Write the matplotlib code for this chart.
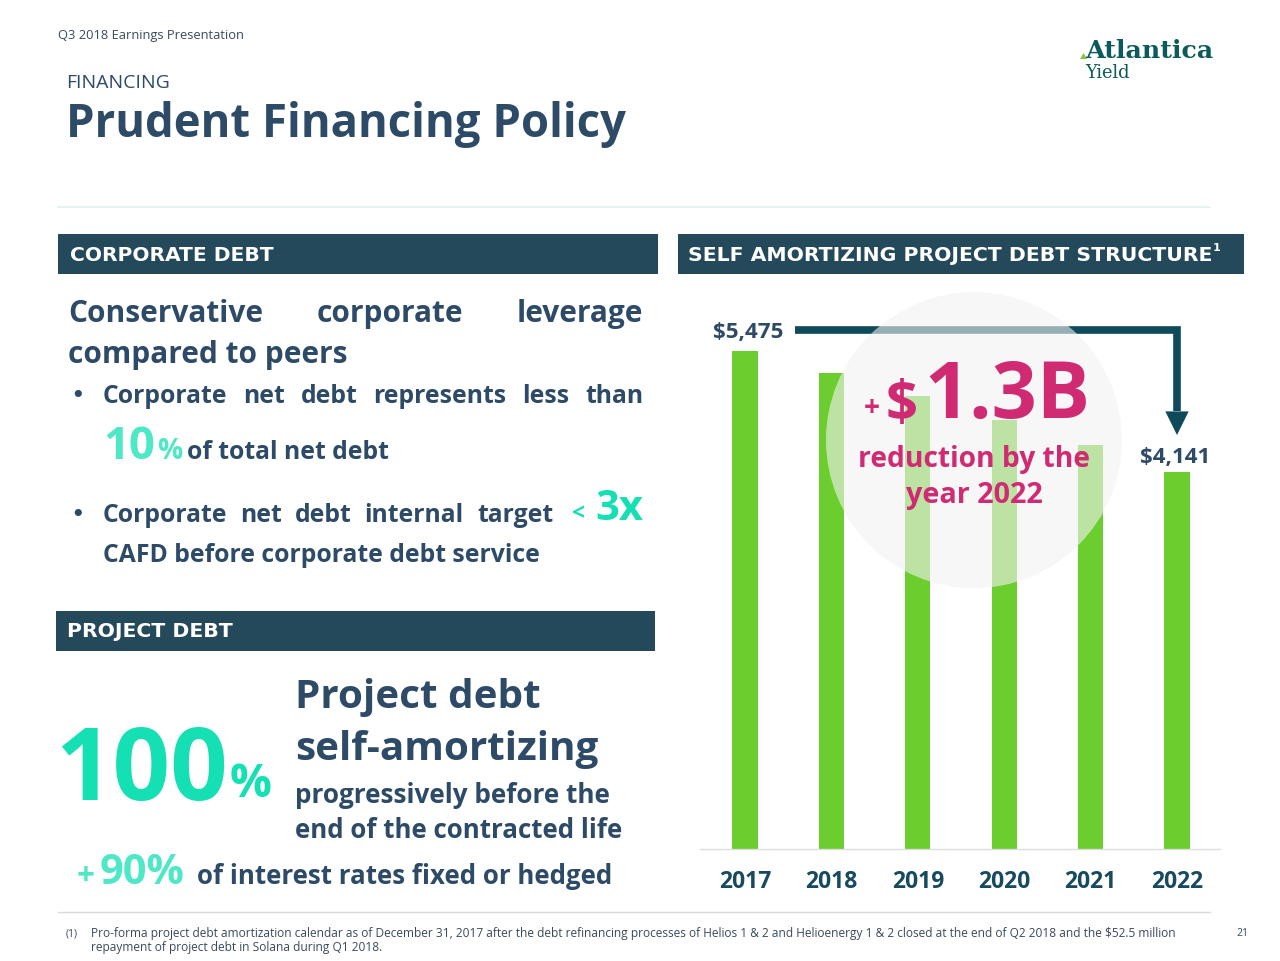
import matplotlib
matplotlib.use("Agg")
import matplotlib.pyplot as plt
from matplotlib.patches import Rectangle, Ellipse, Polygon

# ---------------- data ----------------
years = ["2017", "2018", "2019", "2020", "2021", "2022"]
debt = [5475, 5235, 4980, 4715, 4440, 4141]
reduction_label = "1.3B"

# ---------------- colours ----------------
NAVY = "#2d4a67"
BOX = "#24495a"
TEAL = "#14e0b3"
TEAL_L = "#4ee8c6"
MAG = "#d02a72"
GREEN = "#6ccd2e"
YEARC = "#174a5e"
ARROW = "#0e4a5a"

fig = plt.figure(figsize=(12.8, 9.61), dpi=100)
bg = fig.add_axes([0, 0, 1, 1])
bg.set_xlim(0, 1280)
bg.set_ylim(961, 0)
bg.axis("off")
renderer = fig.canvas.get_renderer()


def width_of(t):
    return t.get_window_extent(renderer).width


def txt(x, y, s, size=12, color=NAVY, weight="bold", family="Open Sans",
        ha="left", va="baseline", width=None, ax=None, **kw):
    a = ax if ax is not None else bg
    t = a.text(x, y, s, fontsize=size, color=color, fontweight=weight,
               family=family, ha=ha, va=va, transform=bg.transData, **kw)
    if width:
        w = width_of(t)
        t.set_fontsize(size * width / w)
    return t


def justify(words, x0, x1, y, size, color=NAVY, weight="bold", family="Open Sans"):
    ts = [bg.text(0, y, w, fontsize=size, color=color, fontweight=weight,
                  family=family, ha="left", va="baseline") for w in words]
    ws = [width_of(t) for t in ts]
    gap = (x1 - x0 - sum(ws)) / (len(words) - 1)
    x = x0
    for t, w in zip(ts, ws):
        t.set_x(x)
        x += w + gap
    return ts


# ---------------- header ----------------
txt(58, 39, "Q3 2018 Earnings Presentation", 9, "#3a4a5a", weight="normal", width=186)
txt(66, 88, "FINANCING", 14, NAVY, weight="normal", width=104)
txt(66, 137, "Prudent Financing Policy", 32, NAVY, width=562)
bg.plot([58, 1210], [207, 207], color="#e2f1f0", lw=1.2)

# logo
txt(1085, 58, "Atlantica", 22, "#0d5a5c", weight="bold", family="DejaVu Serif", width=128)
txt(1085, 78, "Yield", 14, "#0d5a5c", weight="normal", family="DejaVu Serif", width=45)
bg.add_patch(Polygon([[1080, 59], [1087, 59], [1083.5, 53]], closed=True, color="#8cc63f", lw=0))

# section boxes
bg.add_patch(Rectangle((58, 234), 600, 40, color=BOX, lw=0))
bg.add_patch(Rectangle((678, 234), 566, 40, color=BOX, lw=0))
bg.add_patch(Rectangle((56, 611), 599, 40, color=BOX, lw=0))
txt(70, 261, "CORPORATE DEBT", 13, "white", family="DejaVu Sans", width=203)
txt(688, 261, "SELF AMORTIZING PROJECT DEBT STRUCTURE", 13, "white", family="DejaVu Sans", width=520)
txt(1213, 251, "1", 8, "white", family="DejaVu Sans")
txt(67, 637, "PROJECT DEBT", 13, "white", family="DejaVu Sans", width=165)

# ---------------- corporate debt text ----------------
t = txt(68, 363, "compared to peers", 22, NAVY, width=278)
S1 = t.get_fontsize()
justify(["Conservative", "corporate", "leverage"], 68, 643, 322, S1)

t = txt(103, 562, "CAFD before corporate debt service", 18, NAVY, width=438)
S2 = t.get_fontsize()
justify(["Corporate", "net", "debt", "represents", "less", "than"], 103, 643, 403, S2)
txt(70, 403, "•", S2, NAVY, weight="normal", family="DejaVu Sans")
txt(103, 459, "10", 30, TEAL_L, weight="bold", width=52)
txt(157, 459, "%", 16, TEAL_L, weight="bold", width=25)
txt(187, 459, "of total net debt", S2, NAVY)
justify(["Corporate", "net", "debt", "internal", "target"], 103, 553, 522, S2)
txt(70, 522, "•", S2, NAVY, weight="normal", family="DejaVu Sans")
txt(572, 520, "<", 14, TEAL, weight="bold", width=13)
txt(595, 520, "3x", 30, TEAL, weight="bold", width=48)

# ---------------- project debt text ----------------
txt(55, 800, "100", 70, TEAL, width=173)
txt(230, 797, "%", 30, TEAL, weight="bold", width=42)
txt(295, 708, "Project debt", 28, NAVY, width=245)
txt(295, 760, "self-amortizing", 28, NAVY, width=303)
txt(295, 803, "progressively before the", 19, NAVY, width=313)
txt(295, 838, "end of the contracted life", 19, NAVY, width=326)
txt(77, 884, "+", 18, TEAL_L, weight="bold", width=18)
txt(100, 884, "90%", 28, TEAL_L, width=85)
txt(197, 884, "of interest rates fixed or hedged", 21, NAVY, width=414)

# ---------------- footnote ----------------
bg.plot([58, 1210], [912, 912], color="#d9d9d9", lw=1)
txt(66, 937, "(1)", 7.5, "#3a4a5a", weight="normal")
txt(91, 937, "Pro-forma project debt amortization calendar as of December 31, 2017 after the debt "
    "refinancing processes of Helios 1 & 2 and Helioenergy 1 & 2 closed at the end of Q2 2018 "
    "and the $52.5 million", 7.5, "#3a4a5a", weight="normal", width=1089)
txt(91, 951, "repayment of project debt in Solana during Q1 2018.", 7.5, "#3a4a5a", weight="normal", width=292)
txt(1236, 936, "21", 7.5, "#3a4a5a", weight="normal")

# ---------------- bar chart ----------------
px_unit = 86.4
x0_px, base_px, left_px, right_px, top_px = 745, 849, 700, 1220, 300
val_per_px = debt[0] / (base_px - 351)
ax = fig.add_axes([left_px / 1280, (961 - base_px) / 961,
                   (right_px - left_px) / 1280, (base_px - top_px) / 961])
ax.patch.set_alpha(0)
xs = list(range(len(years)))
ax.bar(xs, debt, width=0.29, color=GREEN, zorder=2)
ax.set_xlim(-(x0_px - left_px) / px_unit, (right_px - x0_px) / px_unit)
ax.set_ylim(0, (base_px - top_px) * val_per_px)
ax.set_xticks(xs)
ax.set_xticklabels(years, fontsize=16.5, fontweight="bold", color=YEARC, family="Open Sans")
ax.tick_params(axis="x", length=0, pad=15)
ax.set_yticks([])
for s in ["top", "left", "right"]:
    ax.spines[s].set_visible(False)
ax.spines["bottom"].set_color("#dddddd")
ax.spines["bottom"].set_linewidth(1)

# arrow from first to last bar
y_line = debt[0] + 230
x_start = 0.58
tip_y = debt[-1] + 410
head_base = debt[-1] + 670
ax.plot([x_start, xs[-1], xs[-1]], [y_line, y_line, head_base], color=ARROW, lw=5.5,
        solid_joinstyle="miter", solid_capstyle="butt", zorder=2.5)
ax.add_patch(Polygon([[xs[-1] - 0.135, head_base], [xs[-1] + 0.135, head_base], [xs[-1], tip_y]],
                     closed=True, color=ARROW, lw=0, zorder=2.5))

# translucent circle
ax.add_patch(Ellipse((2.65, 4495), 2 * 148 / px_unit, 2 * 148 * val_per_px,
                     facecolor="#f2f2f2", alpha=0.6, lw=0, zorder=3, clip_on=False))

# value labels
txt(783, 338, f"${debt[0]:,}", 13, NAVY, ha="right", width=70, ax=ax, zorder=5)
txt(1175, 463, f"${debt[-1]:,}", 13, NAVY, ha="center", width=70, ax=ax, zorder=5)

# reduction annotation
txt(864, 416, "+", 20, MAG, width=16, ax=ax, zorder=5)
txt(886, 420, "$", 36, MAG, width=32, ax=ax, zorder=5)
txt(924, 418, reduction_label, 48, MAG, weight="bold", width=166, ax=ax, zorder=5)
txt(974, 467, "reduction by the", 18, MAG, ha="center", width=232, ax=ax, zorder=5)
txt(974, 503, "year 2022", 18, MAG, ha="center", width=137, ax=ax, zorder=5)

fig.savefig("out.png", dpi=100)
